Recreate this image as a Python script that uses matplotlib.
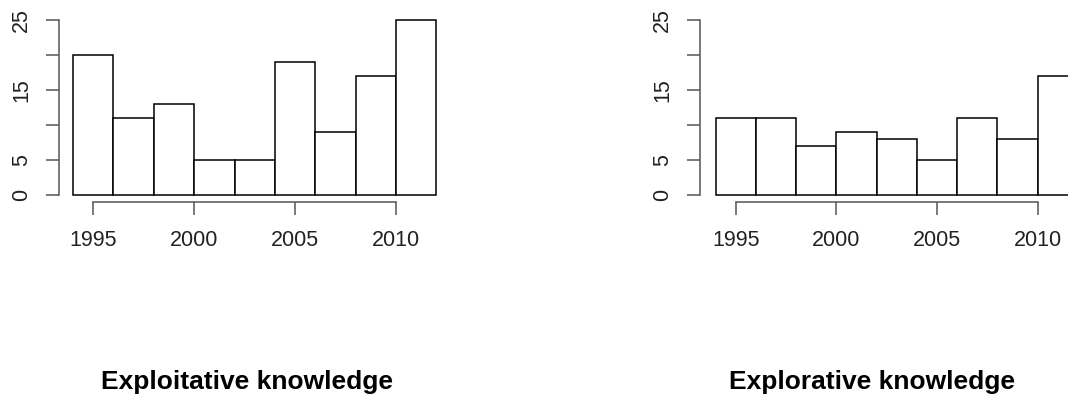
import matplotlib
matplotlib.use("Agg")
import matplotlib.pyplot as plt

# bin edges (years) and counts per bin
bin_edges = [1994, 1996, 1998, 2000, 2002, 2004, 2006, 2008, 2010, 2012]
exploitative = [20, 11, 13, 5, 5, 19, 9, 17, 25]
explorative = [11, 11, 7, 9, 8, 5, 11, 8, 17]
titles = ["Exploitative knowledge", "Explorative knowledge"]
x_ticks = [1995, 2000, 2005, 2010]
y_ticks = [0, 5, 10, 15, 20, 25]
y_ticklabels = ["0", "5", "", "15", "", "25"]

plt.rcParams["font.family"] = ["Liberation Sans", "DejaVu Sans"]

W, H = 1068, 396
fig = plt.figure(figsize=(W / 100, H / 100), dpi=100)

axis_col = "#555555"
label_col = "#222222"


def px_axes(x0, x1, ytop, ybot):
    return fig.add_axes([x0 / W, 1 - ybot / H, (x1 - x0) / W, (ybot - ytop) / H])


def r_hist(ax, counts, left_gap):
    widths = [b - a for a, b in zip(bin_edges[:-1], bin_edges[1:])]
    ax.bar(bin_edges[:-1], counts, width=widths, align="edge",
           facecolor="white", edgecolor="black", linewidth=1.1, clip_on=False)
    ax.set_xlim(bin_edges[0], bin_edges[-1])
    ax.set_ylim(0, 25)
    for s in ("top", "right"):
        ax.spines[s].set_visible(False)
    ax.spines["left"].set_position(("outward", left_gap * 0.72))
    ax.spines["bottom"].set_position(("outward", 6.7 * 0.72))
    ax.spines["left"].set_bounds(0, 25)
    ax.spines["bottom"].set_bounds(x_ticks[0], x_ticks[-1])
    for s in ("left", "bottom"):
        ax.spines[s].set_color(axis_col)
        ax.spines[s].set_linewidth(1.1)
    ax.set_xticks(x_ticks)
    ax.set_xticklabels([str(t) for t in x_ticks])
    ax.set_yticks(y_ticks)
    ax.set_yticklabels(y_ticklabels, rotation=90, va="center")
    ax.tick_params(axis="both", direction="out", length=9.5, width=1.1,
                   color=axis_col, labelcolor=label_col, labelsize=15.5)
    ax.tick_params(axis="x", pad=11)
    ax.tick_params(axis="y", pad=10)
    ax.patch.set_visible(False)


ax1 = px_axes(73.1, 436.4, 20, 195)
r_hist(ax1, exploitative, 73.1 - 59.3)

ax2 = px_axes(715.7, 1078.0, 20, 195)
r_hist(ax2, explorative, 715.7 - 700)

fig.text(246.7 / W, 7 / H, titles[0], ha="center", va="baseline",
         fontsize=19, fontweight="bold", color="black")
fig.text(871.7 / W, 7 / H, titles[1], ha="center", va="baseline",
         fontsize=19, fontweight="bold", color="black")

fig.savefig("out.png", dpi=100, facecolor="white")
